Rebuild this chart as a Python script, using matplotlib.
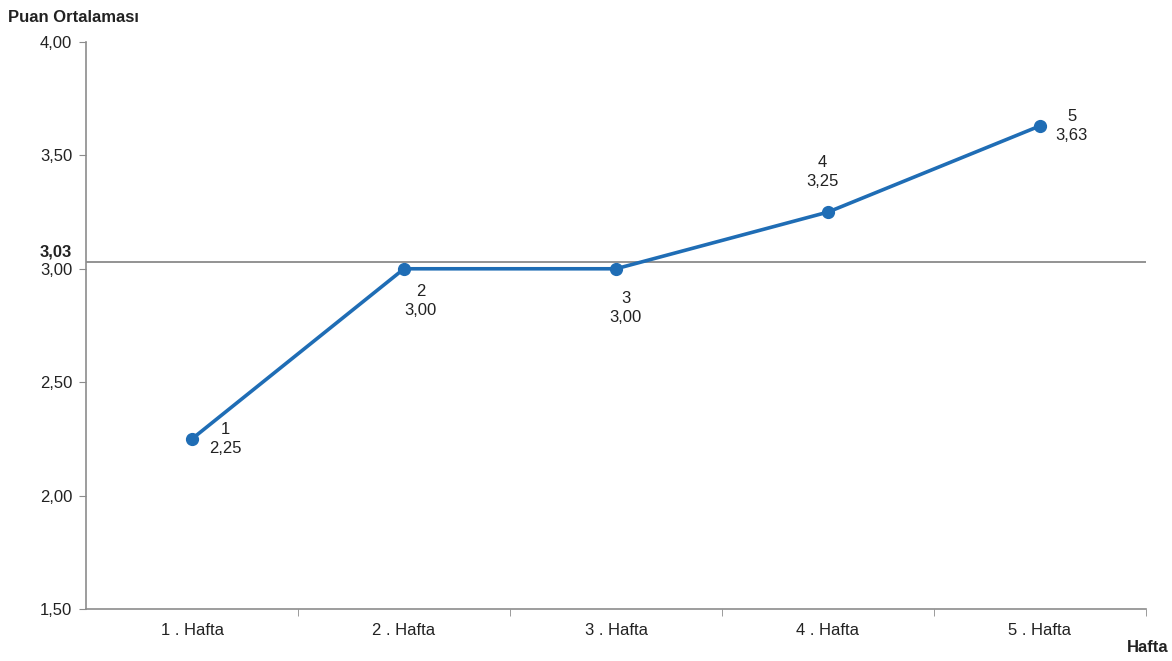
import matplotlib
matplotlib.use("Agg")
import matplotlib.pyplot as plt
from matplotlib.transforms import ScaledTranslation

plt.rcParams['font.family'] = ['Liberation Sans', 'DejaVu Sans']

weeks = ["1 . Hafta", "2 . Hafta", "3 . Hafta", "4 . Hafta", "5 . Hafta"]
point_ids = ["1", "2", "3", "4", "5"]
scores = [2.25, 3.00, 3.00, 3.25, 3.63]
average = 3.03
y_ticks = [1.50, 2.00, 2.50, 3.00, 3.50, 4.00]

# label offsets from each point in points (centre of the two-line label)
label_pos = [(24, 0), (12, -23), (7, -28), (-4, 29), (23, 0)]

line_color = "#1f6db5"
axis_color = "#8c8c8c"
text_color = "#222222"

fig = plt.figure(figsize=(11.72, 6.61), dpi=100)
ax = fig.add_axes([0.0734, 0.0787, 0.9044, 0.8578])

x = list(range(len(weeks)))
ax.plot(x, scores, color=line_color, lw=2.6, marker="o", ms=8.5, zorder=3)
ax.axhline(average, color="#8a8a8a", lw=1.3, zorder=2)

ax.set_xlim(-0.5, len(weeks) - 0.5)
ax.set_ylim(1.5, 4.0)

ax.set_xticks(x)
ax.set_xticklabels(weeks)
ax.set_xticks([i + 0.5 for i in x], minor=True)
ax.tick_params(axis="x", which="major", length=0, pad=10, labelsize=12, labelcolor=text_color)
ax.tick_params(axis="x", which="minor", length=5, direction="out", color=axis_color)

ytick_vals = sorted(y_ticks + [average])
ax.set_yticks(ytick_vals)
ax.set_yticklabels([f"{v:.2f}".replace(".", ",") for v in ytick_vals])
ax.tick_params(axis="y", length=5, direction="out", color=axis_color, pad=5,
               labelsize=12, labelcolor=text_color)
avg_idx = ytick_vals.index(average)
avg_label = ax.get_yticklabels()[avg_idx]
avg_label.set_va("bottom")
avg_label.set_fontweight("bold")
avg_label.set_transform(avg_label.get_transform()
                        + ScaledTranslation(0, 2 / 72, fig.dpi_scale_trans))
ax.yaxis.get_major_ticks()[avg_idx].tick1line.set_visible(False)

for s in ["top", "right"]:
    ax.spines[s].set_visible(False)
for s in ["left", "bottom"]:
    ax.spines[s].set_color(axis_color)
    ax.spines[s].set_linewidth(1.2)

for xi, yi, pid, (dx, dy) in zip(x, scores, point_ids, label_pos):
    ax.annotate(f"{pid}\n{yi:.2f}".replace(".", ","), (xi, yi),
                xytext=(dx, dy), textcoords="offset points",
                ha="center", va="center", fontsize=12, color=text_color,
                linespacing=1.35, multialignment="center")

fig.text(0.007, 0.974, "Puan Ortalaması", fontsize=12, fontweight="bold",
         color=text_color, ha="left", va="center")
fig.text(0.997, 0.02, "Hafta", fontsize=12, fontweight="bold",
         color=text_color, ha="right", va="center")

fig.savefig("out.png", dpi=100, facecolor="white")
